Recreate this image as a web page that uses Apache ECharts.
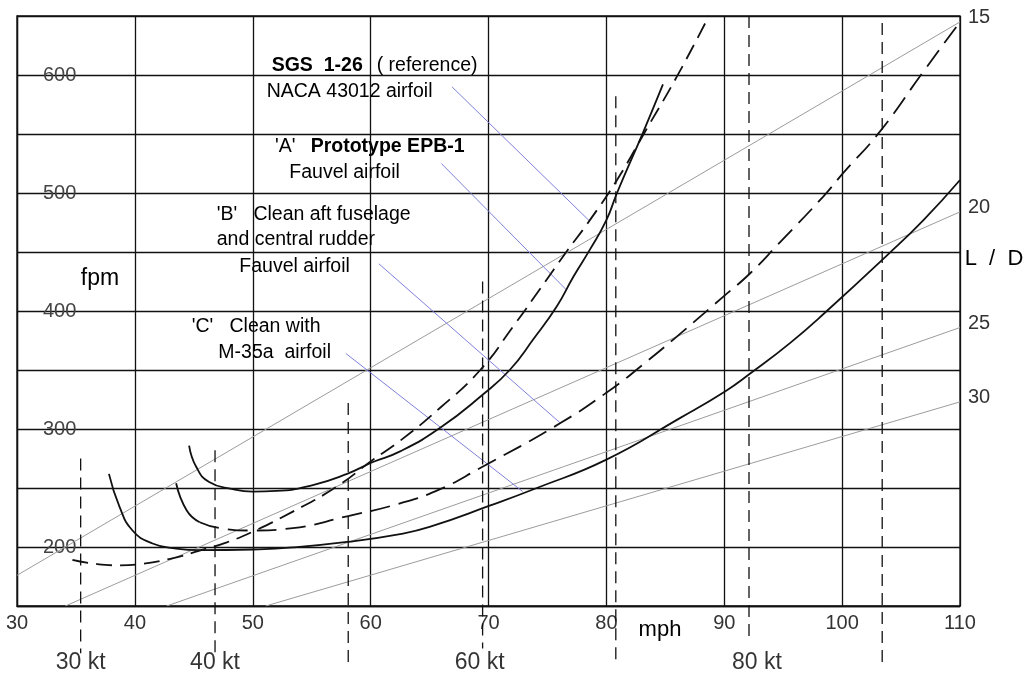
<!DOCTYPE html>
<html>
<head>
<meta charset="utf-8">
<script src="https://cdn.jsdelivr.net/npm/echarts@6/dist/echarts.min.js"></script>
<style>
  html, body { margin: 0; padding: 0; background: #fff; }
  #chart { width: 1024px; height: 677px; }
</style>
</head>
<body>
<div id="chart"></div>
<script>
// speed in mph, sink rate in fpm

// SGS 1-26 reference, NACA 43012 (dashed)
const curveRef = [[34.7, 189], [36.4, 186], [38.7, 184.5], [40.4, 185.5], [43.0, 190], [45.5, 197],
  [47.8, 204], [50.0, 213], [53.4, 230], [57.1, 251], [60.2, 274], [62.5, 290], [65.9, 318],
  [69.3, 350], [72.1, 387], [74.4, 419], [76.6, 450], [78.6, 477], [80.9, 511], [83.4, 554],
  [86.0, 599], [88.7, 650]];

// 'A' prototype EPB-1, Fauvel airfoil
const curveA = [[44.6, 286], [45.2, 268], [46.3, 255], [48.3, 249], [50.0, 247], [52.0, 247.5],
  [55.1, 252.5], [58.0, 262], [60.2, 272], [62.5, 281], [65.9, 301], [69.5, 329], [71.8, 350],
  [73.8, 376], [75.8, 404], [77.2, 429], [78.6, 452], [80.0, 477], [80.9, 500], [83.1, 551],
  [84.8, 592]];

// 'B' clean aft fuselage, central rudder (solid start, then long dashes)
const curveBSolid = [[43.5, 254], [44.4, 231], [45.5, 221]];
const curveBDashed = [[45.5, 221], [47.2, 216], [50.0, 214], [53.4, 216], [58.0, 226], [62.5, 237],
  [65.9, 249], [69.3, 267], [76.1, 305], [80.6, 335], [82.9, 353], [85.7, 376], [89.9, 412],
  [92.2, 432], [94.7, 458], [98.4, 497], [100.1, 517], [103.2, 552], [106.9, 603], [110, 645]];

// 'C' clean with M-35a airfoil
const curveC = [[37.8, 262], [38.7, 234], [39.8, 214], [41.5, 203], [43.5, 198.7], [45.5, 197.3],
  [50.0, 197.9], [53.4, 199.6], [58.0, 204.3], [62.5, 211], [65.0, 217], [70.1, 235], [74.1, 250],
  [80.0, 274], [86.2, 309], [90.1, 332], [92.2, 347], [95.6, 373], [98.7, 400], [103.9, 448],
  [106.9, 477], [110, 511]];

// glide ratio lines
const ld15 = [[30, 176], [110, 645]];
const ld20 = [[34.1, 150], [110, 484]];
const ld25 = [[42.7, 150], [110, 386]];
const ld30 = [[51.1, 150], [110, 323]];

// knot marks (mph position, top and bottom of the dashed line in fpm)
const knotNames = ['30 kt', '40 kt', '50 kt', '60 kt', '70 kt', '80 kt', '90 kt'];
const knotMph = [35.4, 46.8, 58.1, 69.5, 80.8, 92.1, 103.4];
const knotTop = [275, 282, 322, 425, 582, 650, 644];
const knotBottom = [110, 110, 102, 114, 102, 121, 99];
const knotShown = [true, true, false, true, false, true, false];

// leader lines from the notes to the curves
const ptrRef = [[66.9, 590], [78.6, 476]];
const ptrA = [[66.0, 525], [76.6, 418]];
const ptrB = [[60.7, 440], [76.1, 305]];
const ptrC = [[57.9, 364], [72.9, 247]];

const FONT = '"Liberation Sans", Arial, Helvetica, sans-serif';
const KT_LABEL_FPM = 102;
const KT_LABEL_SHIFT = { '80 kt': 8, '60 kt': -3 };

const chart = echarts.init(document.getElementById('chart'));

function curve(data, dash) {
  return {
    type: 'line', data: data, symbol: 'none', silent: true, z: 4,
    smooth: 0.5,
    lineStyle: { color: '#111', width: 1.8, type: dash || 'solid' }
  };
}

function ldLine(data, name) {
  return {
    type: 'line', data: data, symbol: 'none', silent: true, z: 2,
    lineStyle: { color: '#9c9c9c', width: 1 },
    endLabel: {
      show: true, formatter: name, color: '#333', fontSize: 20, fontFamily: FONT,
      distance: 8, offset: [0, -4]
    }
  };
}

function pointer(data) {
  return {
    type: 'line', data: data, symbol: 'none', silent: true, z: 3,
    lineStyle: { color: '#8080dd', width: 1 }
  };
}

const knotSeries = knotMph.map(function (x, i) {
  return {
    type: 'line', data: [[x, knotTop[i]], [x, knotBottom[i]]], symbol: 'none', silent: true,
    clip: false, z: 3,
    lineStyle: { color: '#111', width: 1.3, type: [12, 7] }
  };
});

const knotLabels = {
  type: 'scatter', silent: true, clip: false, symbolSize: 0,
  itemStyle: { color: 'transparent' },
  data: knotMph.map(function (x, i) {
    if (!knotShown[i]) return null;
    return {
      value: [x, KT_LABEL_FPM, knotNames[i]],
      label: { offset: [KT_LABEL_SHIFT[knotNames[i]] || 0, 0] }
    };
  }).filter(function (d) { return d; }),
  label: {
    show: true, position: 'inside', color: '#000', fontSize: 23, fontFamily: FONT,
    formatter: function (p) { return p.value[2]; }
  }
};

function note(text, x, y, bold) {
  return {
    type: 'text', silent: true, z: 10,
    style: {
      text: text, x: x, y: y, fill: '#000',
      font: (bold ? 'bold ' : '') + '19.5px ' + FONT,
      textAlign: 'left', textVerticalAlign: 'middle', verticalAlign: 'middle'
    }
  };
}

function axisName(text, x, y, size) {
  return {
    type: 'text', silent: true, z: 10,
    style: {
      text: text, x: x, y: y, fill: '#000', font: size + 'px ' + FONT,
      textAlign: 'center', textVerticalAlign: 'middle', verticalAlign: 'middle'
    }
  };
}

const option = {
  animation: false,
  backgroundColor: '#fff',
  grid: {
    left: 17, top: 16, width: 943, height: 590,
    show: true, borderColor: '#111', borderWidth: 1.3, backgroundColor: 'transparent'
  },
  xAxis: {
    type: 'value', min: 30, max: 110, interval: 10,
    axisLine: { show: true, lineStyle: { color: '#111', width: 1.3 } },
    axisTick: { show: false },
    splitLine: { show: true, lineStyle: { color: '#111', width: 1.3 } },
    axisLabel: { color: '#333', fontSize: 20, fontFamily: FONT, margin: 7 }
  },
  yAxis: {
    type: 'value', min: 150, max: 650, interval: 50,
    axisLine: { show: true, lineStyle: { color: '#111', width: 1.3 } },
    axisTick: { show: false },
    splitLine: { show: true, lineStyle: { color: '#111', width: 1.3 } },
    axisLabel: {
      inside: true, margin: 26, color: '#444', fontSize: 20, fontFamily: FONT,
      formatter: function (v) { return (v % 100 === 0 && v > 150 && v < 650) ? String(v) : ''; }
    }
  },
  series: [
    ldLine(ld15, '15'), ldLine(ld20, '20'), ldLine(ld25, '25'), ldLine(ld30, '30'),
    pointer(ptrRef), pointer(ptrA), pointer(ptrB), pointer(ptrC),
    curve(curveRef, [16, 8]),
    curve(curveA),
    curve(curveBSolid),
    curve(curveBDashed, [20, 9]),
    curve(curveC),
    knotLabels
  ].concat(knotSeries),
  graphic: [
    note('SGS  1-26', 271.7, 66, true),
    note('( reference)', 376.7, 66),
    note('NACA 43012 airfoil', 266.7, 91.5),
    note("'A'", 275, 147),
    note('Prototype EPB-1', 310.7, 147, true),
    note('Fauvel airfoil', 289.3, 173),
    note("'B'   Clean aft fuselage", 216.7, 215),
    note('and central rudder', 216.7, 240),
    note('Fauvel airfoil', 239.3, 266.5),
    note("'C'   Clean with", 191.7, 327),
    note('M-35a  airfoil', 218.3, 353),
    axisName('fpm', 100, 279, 23),
    axisName('L  /  D', 994, 259, 22),
    axisName('mph', 660, 630, 22)
  ]
};

chart.setOption(option);
</script>
</body>
</html>
